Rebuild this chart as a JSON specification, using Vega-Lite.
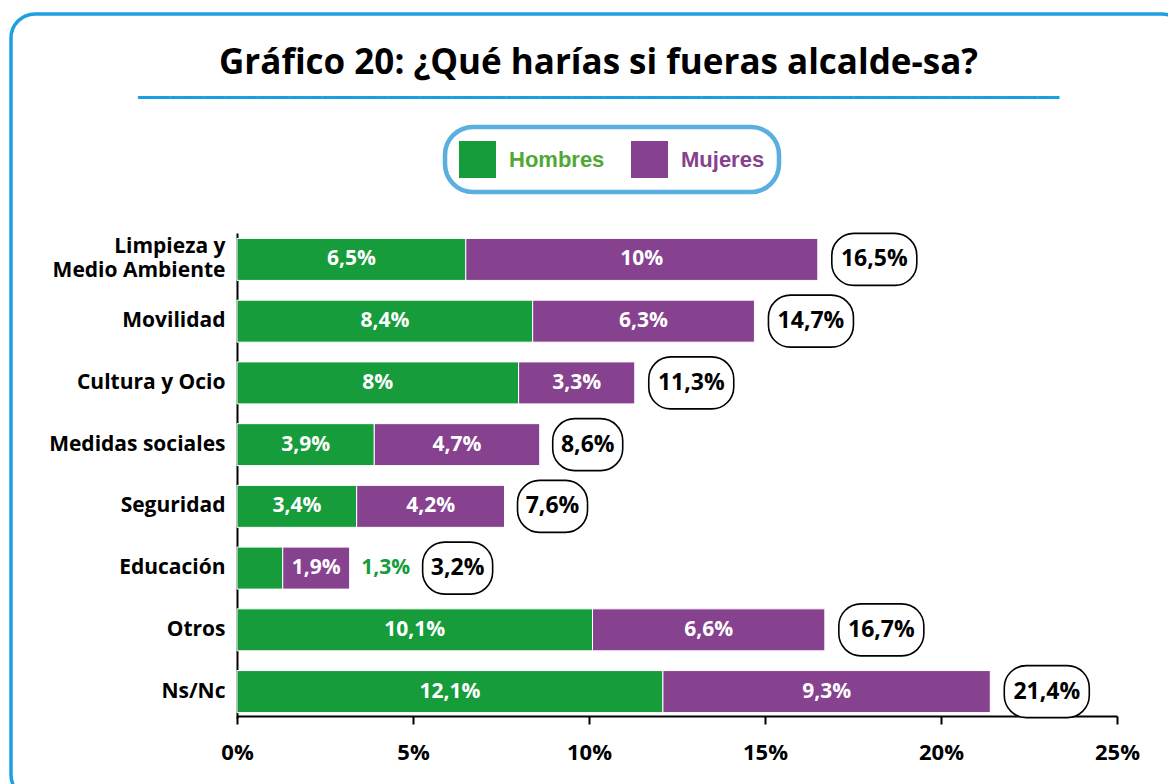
{
  "$schema": "https://vega.github.io/schema/vega-lite/v6.json",
  "width": 1175,
  "height": 785,
  "padding": {"left": 11, "top": 14, "right": 0, "bottom": 0},
  "autosize": {"type": "pad"},
  "background": "white",
  "title": {
    "text": "Gráfico 20: ¿Qué harías si fueras alcalde-sa?",
    "subtitle": "━━━━━━━━━━━━━━━━━━━━━━━━━━━━━━━━━━━━━━━━━━━━━━━━━━━━━━━━━━━━━━━━━━━━━━━━━━━━━━━━━━━━━",
    "anchor": "middle",
    "frame": "group",
    "orient": "top",
    "offset": -94,
    "font": "Open Sans",
    "fontSize": 35,
    "fontWeight": "bold",
    "color": "#000000",
    "subtitleFont": "DejaVu Sans",
    "subtitleFontSize": 18,
    "subtitleColor": "#1a9fe2",
    "subtitlePadding": 9
  },
  "datasets": {
    "respuestas": [
      {"categoria": "Limpieza y Medio Ambiente", "sexo": "Hombres", "valor": 0.065},
      {"categoria": "Limpieza y Medio Ambiente", "sexo": "Mujeres", "valor": 0.10},
      {"categoria": "Movilidad", "sexo": "Hombres", "valor": 0.084},
      {"categoria": "Movilidad", "sexo": "Mujeres", "valor": 0.063},
      {"categoria": "Cultura y Ocio", "sexo": "Hombres", "valor": 0.08},
      {"categoria": "Cultura y Ocio", "sexo": "Mujeres", "valor": 0.033},
      {"categoria": "Medidas sociales", "sexo": "Hombres", "valor": 0.039},
      {"categoria": "Medidas sociales", "sexo": "Mujeres", "valor": 0.047},
      {"categoria": "Seguridad", "sexo": "Hombres", "valor": 0.034},
      {"categoria": "Seguridad", "sexo": "Mujeres", "valor": 0.042},
      {"categoria": "Educación", "sexo": "Hombres", "valor": 0.013},
      {"categoria": "Educación", "sexo": "Mujeres", "valor": 0.019},
      {"categoria": "Otros", "sexo": "Hombres", "valor": 0.101},
      {"categoria": "Otros", "sexo": "Mujeres", "valor": 0.066},
      {"categoria": "Ns/Nc", "sexo": "Hombres", "valor": 0.121},
      {"categoria": "Ns/Nc", "sexo": "Mujeres", "valor": 0.093}
    ]
  },
  "data": {"name": "respuestas"},
  "transform": [
    {"stack": "valor", "groupby": ["categoria"], "sort": [{"field": "sexo", "order": "ascending"}], "as": ["ini", "fin"]}
  ],
  "layer": [
    {
      "mark": {"type": "bar", "stroke": "white", "strokeWidth": 1},
      "encoding": {
        "x": {
          "field": "ini",
          "type": "quantitative",
          "scale": {"domain": [0, 0.25], "range": [226, 1106], "nice": false, "zero": true},
          "axis": {
            "title": null,
            "values": [0, 0.05, 0.1, 0.15, 0.2, 0.25],
            "format": ".0%",
            "grid": false,
            "offset": -83,
            "domainColor": "#000000",
            "domainWidth": 2,
            "tickColor": "#000000",
            "tickWidth": 2,
            "tickSize": 8,
            "labelFont": "Open Sans",
            "labelFontSize": 22,
            "labelFontWeight": "bold",
            "labelColor": "#000000",
            "labelPadding": 18,
            "labelFlush": false,
            "labelOverlap": false
          }
        },
        "x2": {"field": "fin"},
        "y": {
          "field": "categoria",
          "type": "nominal",
          "sort": ["Limpieza y Medio Ambiente", "Movilidad", "Cultura y Ocio", "Medidas sociales", "Seguridad", "Educación", "Otros", "Ns/Nc"],
          "scale": {"range": [219, 704], "paddingInner": 0.32, "paddingOuter": 0.088},
          "axis": {
            "title": null,
            "ticks": false,
            "grid": false,
            "offset": -226,
            "domainColor": "#000000",
            "domainWidth": 2,
            "labelFont": "Open Sans",
            "labelFontSize": 21,
            "labelFontWeight": "bold",
            "labelColor": "#000000",
            "labelPadding": 12,
            "labelLimit": 300,
            "labelLineHeight": 24,
            "labelOffset": {"condition": {"test": "datum.value === 'Limpieza y Medio Ambiente'", "value": -12}, "value": 0},
            "labelExpr": "datum.label === 'Limpieza y Medio Ambiente' ? ['Limpieza y', 'Medio Ambiente'] : datum.label"
          }
        },
        "color": {
          "field": "sexo",
          "type": "nominal",
          "scale": {"domain": ["Hombres", "Mujeres"], "range": ["#169c3a", "#86418f"]},
          "legend": {
            "title": null,
            "orient": "none",
            "legendX": 434,
            "legendY": 113,
            "direction": "horizontal",
            "symbolType": "square",
            "symbolSize": 1369,
            "symbolStrokeWidth": 0,
            "labelFont": "Liberation Sans",
            "labelFontSize": 22,
            "labelFontWeight": "bold",
            "labelColor": {"expr": "datum.label === 'Hombres' ? '#4fa935' : '#86418f'"},
            "labelOffset": 13,
            "labelLimit": 200,
            "columnPadding": 26,
            "padding": 14,
            "strokeColor": "#5aaee0",
            "cornerRadius": 28,
            "fillColor": "white"
          }
        }
      }
    },
    {
      "transform": [
        {"filter": "datum.categoria !== 'Educación' || datum.sexo !== 'Hombres'"},
        {"fold": ["ini", "fin"], "as": ["extremo", "pos"]}
      ],
      "mark": {"type": "text", "font": "Open Sans", "fontSize": 21, "fontWeight": "bold", "color": "white", "align": "center", "baseline": "middle"},
      "encoding": {
        "x": {"field": "pos", "type": "quantitative", "aggregate": "mean"},
        "y": {"field": "categoria", "type": "nominal", "sort": ["Limpieza y Medio Ambiente", "Movilidad", "Cultura y Ocio", "Medidas sociales", "Seguridad", "Educación", "Otros", "Ns/Nc"]},
        "detail": {"field": "sexo", "type": "nominal"},
        "text": {"field": "valor", "type": "quantitative", "format": ".1~%"}
      }
    },
    {
      "transform": [
        {"joinaggregate": [{"op": "max", "field": "fin", "as": "total"}], "groupby": ["categoria"]},
        {"filter": "datum.categoria === 'Educación' && datum.sexo === 'Hombres'"}
      ],
      "mark": {"type": "text", "font": "Open Sans", "fontSize": 21, "fontWeight": "bold", "color": "#169c3a", "align": "center", "baseline": "middle", "xOffset": 36},
      "encoding": {
        "x": {"field": "total", "type": "quantitative"},
        "y": {"field": "categoria", "type": "nominal", "sort": ["Limpieza y Medio Ambiente", "Movilidad", "Cultura y Ocio", "Medidas sociales", "Seguridad", "Educación", "Otros", "Ns/Nc"]},
        "text": {"field": "valor", "type": "quantitative", "format": ".1~%"}
      }
    },
    {
      "transform": [{"aggregate": [{"op": "max", "field": "fin", "as": "total"}], "groupby": ["categoria"]}],
      "encoding": {
        "x": {"field": "total", "type": "quantitative"},
        "y": {"field": "categoria", "type": "nominal", "sort": ["Limpieza y Medio Ambiente", "Movilidad", "Cultura y Ocio", "Medidas sociales", "Seguridad", "Educación", "Otros", "Ns/Nc"]}
      },
      "layer": [
        {
          "transform": [{"filter": "datum.total >= 0.1"}],
          "mark": {"type": "bar", "fill": "white", "stroke": "black", "strokeWidth": 1.6, "cornerRadius": 22, "height": 52, "xOffset": 14, "x2Offset": 99},
          "encoding": {"x2": {"field": "total"}}
        },
        {
          "transform": [{"filter": "datum.total < 0.1 && datum.categoria !== 'Educación'"}],
          "mark": {"type": "bar", "fill": "white", "stroke": "black", "strokeWidth": 1.6, "cornerRadius": 22, "height": 52, "xOffset": 13, "x2Offset": 83},
          "encoding": {"x2": {"field": "total"}}
        },
        {
          "transform": [{"filter": "datum.categoria === 'Educación'"}],
          "mark": {"type": "bar", "fill": "white", "stroke": "black", "strokeWidth": 1.6, "cornerRadius": 22, "height": 52, "xOffset": 73, "x2Offset": 143},
          "encoding": {"x2": {"field": "total"}}
        },
        {
          "transform": [{"filter": "datum.total >= 0.1"}],
          "mark": {"type": "text", "font": "Open Sans", "fontSize": 23, "fontWeight": "bold", "color": "black", "align": "center", "baseline": "middle", "xOffset": 56.5},
          "encoding": {"text": {"field": "total", "type": "quantitative", "format": ".1~%"}}
        },
        {
          "transform": [{"filter": "datum.total < 0.1 && datum.categoria !== 'Educación'"}],
          "mark": {"type": "text", "font": "Open Sans", "fontSize": 23, "fontWeight": "bold", "color": "black", "align": "center", "baseline": "middle", "xOffset": 48},
          "encoding": {"text": {"field": "total", "type": "quantitative", "format": ".1~%"}}
        },
        {
          "transform": [{"filter": "datum.categoria === 'Educación'"}],
          "mark": {"type": "text", "font": "Open Sans", "fontSize": 23, "fontWeight": "bold", "color": "black", "align": "center", "baseline": "middle", "xOffset": 108},
          "encoding": {"text": {"field": "total", "type": "quantitative", "format": ".1~%"}}
        }
      ]
    }
  ],
  "config": {
    "view": {"stroke": "#1ba1e2", "strokeWidth": 3.5, "cornerRadius": 24, "fill": "white"},
    "legend": {"strokeWidth": 4.5},
    "locale": {
      "number": {"decimal": ",", "thousands": ".", "grouping": [3], "currency": ["", " €"]}
    }
  }
}
